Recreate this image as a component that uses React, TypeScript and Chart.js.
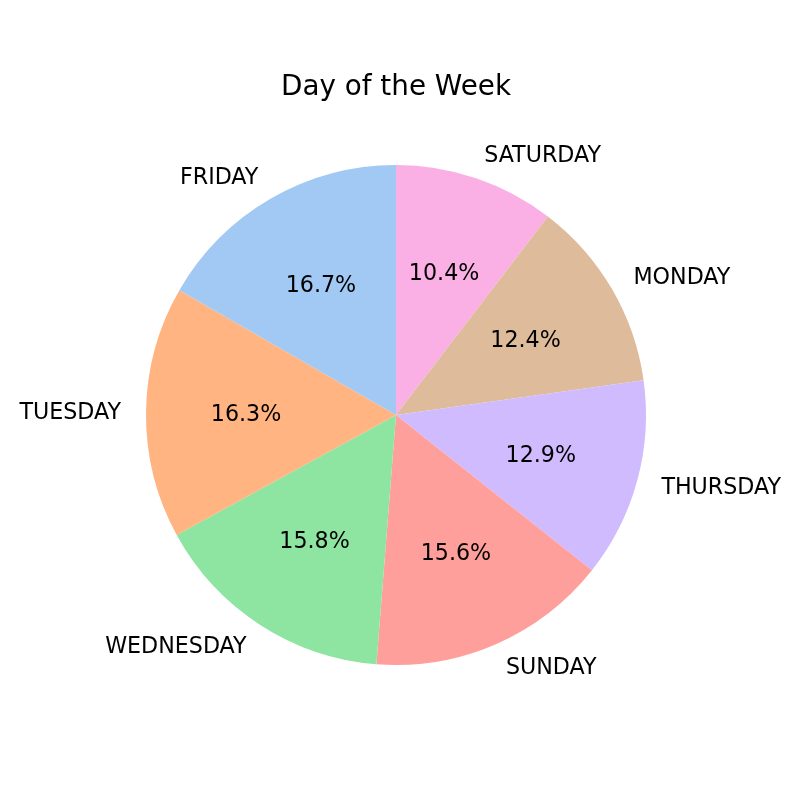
import React, { useEffect, useRef } from "react";
import { Chart, registerables } from "chart.js";

Chart.register(...registerables);

const days = ["FRIDAY", "TUESDAY", "WEDNESDAY", "SUNDAY", "THURSDAY", "MONDAY", "SATURDAY"];
const percents = [16.7, 16.3, 15.8, 15.6, 12.9, 12.4, 10.4];
const colors = ["#a1c9f4", "#ffb482", "#8de5a1", "#ff9f9b", "#d0bbff", "#debb9b", "#fab0e4"];
const title = "Day of the Week";

// matplotlib draws counter-clockwise; Chart.js draws clockwise, so reverse
const labelsCW = [...days].reverse();
const valuesCW = [...percents].reverse();
const colorsCW = [...colors].reverse();

const textPlugin = {
  id: "mplText",
  afterDraw(chart: any) {
    const ctx = chart.ctx;
    const meta = chart.getDatasetMeta(0);
    const dy = 1.5;
    ctx.save();
    ctx.fillStyle = "#000";
    ctx.font = '27.8px "DejaVu Sans"';
    ctx.textAlign = "center";
    ctx.textBaseline = "middle";
    ctx.fillText(title, 396, 87.5);
    ctx.font = '22.2px "DejaVu Sans"';
    meta.data.forEach((arc: any, i: number) => {
      const { x, y, startAngle, endAngle, outerRadius } = arc.getProps(
        ["x", "y", "startAngle", "endAngle", "outerRadius"],
        true
      );
      const a = (startAngle + endAngle) / 2;
      const c = Math.cos(a);
      const s = Math.sin(a);
      ctx.textAlign = c > 0.0001 ? "left" : c < -0.0001 ? "right" : "center";
      ctx.fillText(labelsCW[i], x + c * outerRadius * 1.1, y + s * outerRadius * 1.1 + dy);
      ctx.textAlign = "center";
      ctx.fillText(valuesCW[i].toFixed(1) + "%", x + c * outerRadius * 0.6, y + s * outerRadius * 0.6 + dy);
    });
    ctx.restore();
  },
};

export default function App() {
  const ref = useRef<HTMLCanvasElement>(null);
  useEffect(() => {
    if (!ref.current) return;
    const chart = new Chart(ref.current, {
      type: "pie",
      data: {
        labels: labelsCW,
        datasets: [
          {
            data: valuesCW,
            backgroundColor: colorsCW,
            borderWidth: 0,
          },
        ],
      },
      options: {
        responsive: false,
        animation: false,
        rotation: 0,
        layout: { padding: { left: 146, right: 154, top: 165, bottom: 135 } },
        plugins: {
          legend: { display: false },
          tooltip: { enabled: false },
          title: { display: false },
        },
      },
      plugins: [textPlugin],
    });
    return () => chart.destroy();
  }, []);
  return (
    <div style={{ position: "fixed", left: 0, top: 0, width: 800, height: 800, background: "#fff" }}>
      <canvas ref={ref} width={800} height={800} style={{ width: 800, height: 800 }} />
    </div>
  );
}
